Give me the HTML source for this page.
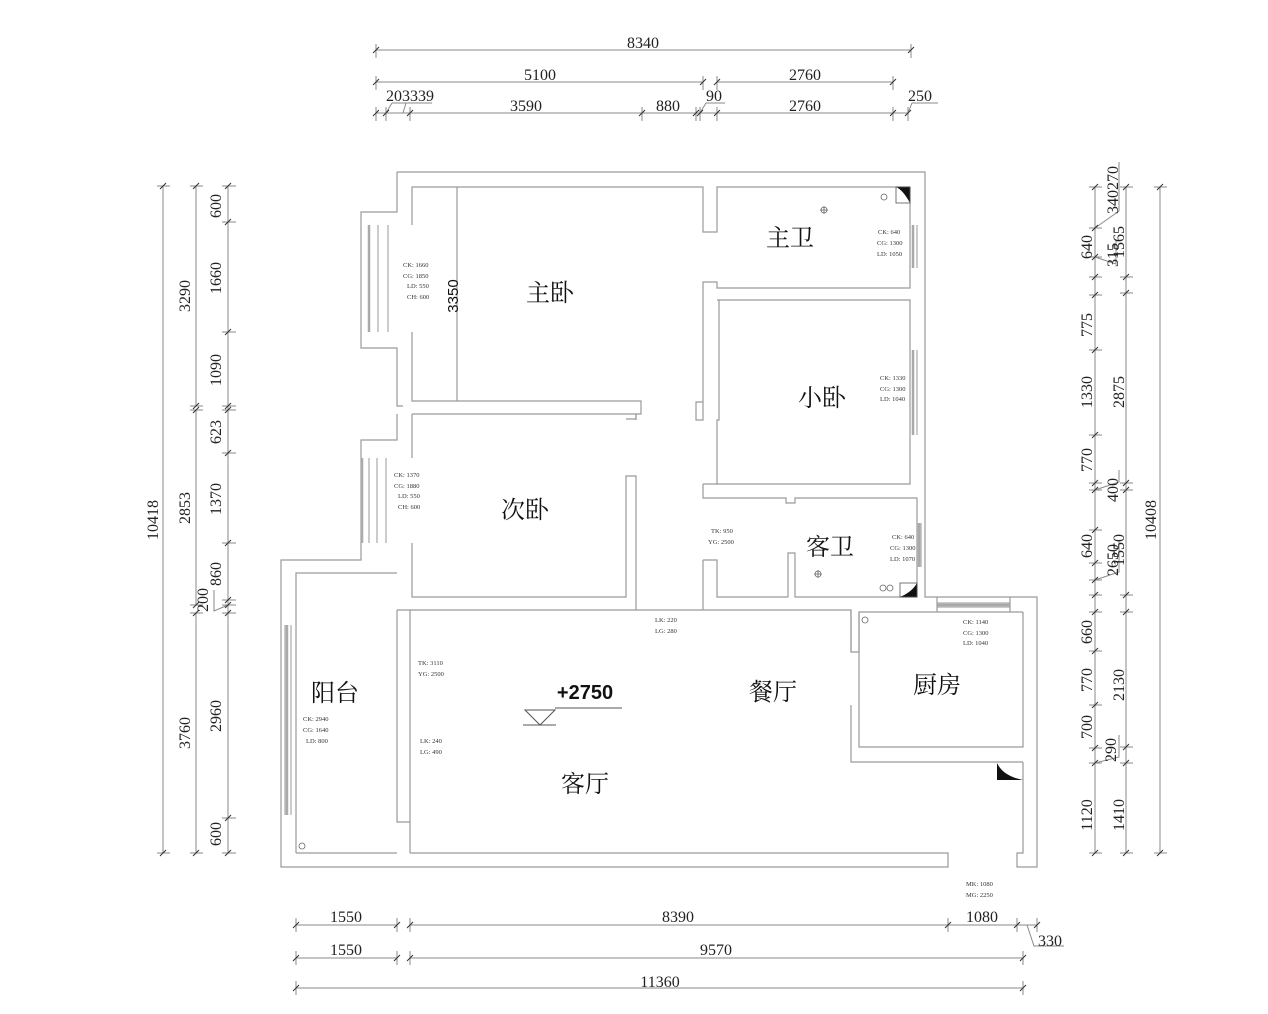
<!DOCTYPE html>
<html><head><meta charset="utf-8"><style>
html,body{margin:0;padding:0;background:#fff;}
svg{display:block;}
.w{fill:none;stroke:#9a9a9a;stroke-width:1.2;}
.d{fill:none;stroke:#8a8a8a;stroke-width:1;}
.t{stroke:#333;stroke-width:1;}
.n{font-family:"Liberation Serif",serif;font-size:16px;fill:#222;}
.s{font-family:"Liberation Serif",serif;font-size:6.5px;fill:#333;}
.r{font-family:"Liberation Serif","Noto Serif CJK SC","Noto Sans CJK SC",serif;font-size:24px;fill:#111;}
.win{fill:none;stroke:#999;stroke-width:1;}
.wing{stroke:#aaa;stroke-width:2.5;}
</style></head><body>
<svg width="1268" height="1014" viewBox="0 0 1268 1014" xmlns="http://www.w3.org/2000/svg">
<!-- TOP DIMENSIONS -->
<g class="d">
<path d="M376 50H911"/><path d="M376 82H703M717 82H893"/><path d="M376 113H908"/>
<path d="M376 44V58M911 44V58M376 76V90M703 76V90M717 76V90M893 76V90"/>
<path d="M376 107V121M386 107V121M410 107V121M642 107V121M696 107V121M700 107V121M717 107V121M893 107V121M908 107V121"/>
<path d="M386 113L392 103H432M403 113L406 103M700 113L706 103H725M908 113L912 103H938"/>
</g>
<g class="t">
<path d="M373 53L379 47M908 53L914 47M373 85L379 79M700 85L706 79M714 85L720 79M890 85L896 79"/>
<path d="M373 116L379 110M383 116L389 110M407 116L413 110M639 116L645 110M693 116L699 110M697 116L703 110M714 116L720 110M890 116L896 110M905 116L911 110"/>
</g>
<text class="n" x="643" y="48" text-anchor="middle">8340</text>
<text class="n" x="540" y="80" text-anchor="middle">5100</text>
<text class="n" x="805" y="80" text-anchor="middle">2760</text>
<text class="n" x="410" y="101" text-anchor="middle">203339</text>
<text class="n" x="526" y="111" text-anchor="middle">3590</text>
<text class="n" x="668" y="111" text-anchor="middle">880</text>
<text class="n" x="714" y="101" text-anchor="middle">90</text>
<text class="n" x="805" y="111" text-anchor="middle">2760</text>
<text class="n" x="920" y="101" text-anchor="middle">250</text>

<!-- LEFT DIMENSIONS -->
<g class="d">
<path d="M163 186V853M196 186V406M196 410V605M196 613V853M228 186V853"/>
<path d="M157 186H170M157 853H170M190 186H203M190 406H203M190 410H203M190 605H203M190 613H203M190 853H203"/>
<path d="M222 186H236M222 222H236M222 332H236M222 406H236M222 410H236M222 453H236M222 543H236M222 600H236M222 605H236M222 613H236M222 818H236M222 853H236"/>
<path d="M228 605L214 611V590"/>
</g>
<g class="t">
<path d="M160 189L166 183M160 856L166 850M193 189L199 183M193 409L199 403M193 413L199 407M193 608L199 602M193 616L199 610M193 856L199 850"/>
<path d="M225 189L231 183M225 225L231 219M225 335L231 329M225 409L231 403M225 413L231 407M225 456L231 450M225 546L231 540M225 603L231 597M225 608L231 602M225 616L231 610M225 821L231 815M225 856L231 850"/>
</g>
<g class="n">
<text transform="translate(158,520) rotate(-90)" text-anchor="middle">10418</text>
<text transform="translate(190,296) rotate(-90)" text-anchor="middle">3290</text>
<text transform="translate(190,508) rotate(-90)" text-anchor="middle">2853</text>
<text transform="translate(190,733) rotate(-90)" text-anchor="middle">3760</text>
<text transform="translate(221,206) rotate(-90)" text-anchor="middle">600</text>
<text transform="translate(221,278) rotate(-90)" text-anchor="middle">1660</text>
<text transform="translate(221,370) rotate(-90)" text-anchor="middle">1090</text>
<text transform="translate(221,432) rotate(-90)" text-anchor="middle">623</text>
<text transform="translate(221,499) rotate(-90)" text-anchor="middle">1370</text>
<text transform="translate(221,574) rotate(-90)" text-anchor="middle">860</text>
<text transform="translate(208,600) rotate(-90)" text-anchor="middle">200</text>
<text transform="translate(221,716) rotate(-90)" text-anchor="middle">2960</text>
<text transform="translate(221,834) rotate(-90)" text-anchor="middle">600</text>
</g>

<!-- RIGHT DIMENSIONS -->
<g class="d">
<path d="M1095 187V853M1126 187V853M1160 187V853"/>
<path d="M1089 187H1102M1089 228H1102M1089 257H1102M1089 277H1102M1089 295H1102M1089 350H1102M1089 435H1102M1089 483H1102M1089 490H1102M1089 530H1102M1089 563H1102M1089 580H1102M1089 595H1102M1089 612H1102M1089 651H1102M1089 705H1102M1089 748H1102M1089 763H1102M1089 853H1102"/>
<path d="M1120 187H1133M1120 277H1133M1120 293H1133M1120 483H1133M1120 490H1133M1120 595H1133M1120 612H1133M1120 747H1133M1120 763H1133M1120 853H1133M1154 187H1167M1154 853H1167"/>
<path d="M1095 228L1119 211V162M1095 257L1116 264V240M1095 490L1119 482V470M1095 580L1119 572V540M1095 763L1119 757V735"/>
</g>
<g class="t">
<path d="M1092 190L1098 184M1092 231L1098 225M1092 260L1098 254M1092 280L1098 274M1092 298L1098 292M1092 353L1098 347M1092 438L1098 432M1092 486L1098 480M1092 493L1098 487M1092 533L1098 527M1092 566L1098 560M1092 583L1098 577M1092 598L1098 592M1092 615L1098 609M1092 654L1098 648M1092 708L1098 702M1092 751L1098 745M1092 766L1098 760M1092 856L1098 850"/>
<path d="M1123 190L1129 184M1123 280L1129 274M1123 296L1129 290M1123 486L1129 480M1123 493L1129 487M1123 598L1129 592M1123 615L1129 609M1123 750L1129 744M1123 766L1129 760M1123 856L1129 850M1157 190L1163 184M1157 856L1163 850"/>
</g>
<g class="n">
<text transform="translate(1092,247) rotate(-90)" text-anchor="middle">640</text>
<text transform="translate(1092,325) rotate(-90)" text-anchor="middle">775</text>
<text transform="translate(1092,392) rotate(-90)" text-anchor="middle">1330</text>
<text transform="translate(1092,460) rotate(-90)" text-anchor="middle">770</text>
<text transform="translate(1092,546) rotate(-90)" text-anchor="middle">640</text>
<text transform="translate(1092,632) rotate(-90)" text-anchor="middle">660</text>
<text transform="translate(1092,680) rotate(-90)" text-anchor="middle">770</text>
<text transform="translate(1092,727) rotate(-90)" text-anchor="middle">700</text>
<text transform="translate(1092,815) rotate(-90)" text-anchor="middle">1120</text>
<text transform="translate(1118,190) rotate(-90)" text-anchor="middle">340270</text>
<text transform="translate(1118,255) rotate(-90)" text-anchor="middle">315</text>
<text transform="translate(1124,242) rotate(-90)" text-anchor="middle">1565</text>
<text transform="translate(1124,392) rotate(-90)" text-anchor="middle">2875</text>
<text transform="translate(1118,490) rotate(-90)" text-anchor="middle">400</text>
<text transform="translate(1118,560) rotate(-90)" text-anchor="middle">2650</text>
<text transform="translate(1124,550) rotate(-90)" text-anchor="middle">1550</text>
<text transform="translate(1124,685) rotate(-90)" text-anchor="middle">2130</text>
<text transform="translate(1116,750) rotate(-90)" text-anchor="middle">290</text>
<text transform="translate(1124,815) rotate(-90)" text-anchor="middle">1410</text>
<text transform="translate(1156,520) rotate(-90)" text-anchor="middle">10408</text>
</g>

<!-- BOTTOM DIMENSIONS -->
<g class="d">
<path d="M296 925H397M410 925H1037"/><path d="M296 958H397M410 958H1023"/><path d="M296 988H1023"/>
<path d="M296 918V932M397 918V932M410 918V932M948 918V932M1017 918V932M1037 918V932"/>
<path d="M296 951V965M397 951V965M410 951V965M1023 951V965M296 981V995M1023 981V995"/>
<path d="M1027 925L1034 946H1064"/>
</g>
<g class="t">
<path d="M293 928L299 922M394 928L400 922M407 928L413 922M945 928L951 922M1014 928L1020 922M1034 928L1040 922"/>
<path d="M293 961L299 955M394 961L400 955M407 961L413 955M1020 961L1026 955M293 991L299 985M1020 991L1026 985"/>
</g>
<text class="n" x="346" y="922" text-anchor="middle">1550</text>
<text class="n" x="678" y="922" text-anchor="middle">8390</text>
<text class="n" x="982" y="922" text-anchor="middle">1080</text>
<text class="n" x="1050" y="946" text-anchor="middle">330</text>
<text class="n" x="346" y="955" text-anchor="middle">1550</text>
<text class="n" x="716" y="955" text-anchor="middle">9570</text>
<text class="n" x="660" y="987" text-anchor="middle">11360</text>

<!-- WALLS -->
<g class="w">
<!-- outer -->
<path d="M397 172H925V597H1037V867H1017V853H1023V762"/>
<path d="M397 172V212H361V348H397V406H403"/>
<path d="M397 414V440H361V560H281V867H948V853H410"/>
<!-- master bedroom -->
<path d="M412 225V187H703V232H717V187H910V288H717V282H703V420H696V402H703"/>
<path d="M412 332V401H641V414H636V419H626"/>
<path d="M457 187V401"/>
<path d="M412 414H636V420"/>
<path d="M412 414V458M412 543V597H626V476H636V610"/>
<!-- small bedroom -->
<path d="M717 300H910V484H717V420H719V300"/>
<path d="M703 484H717M703 484V498H786V503H795V498H917V597H795V553H788V597"/>
<path d="M703 560H717V597H788"/>
<path d="M703 560V610"/>
<!-- living -->
<path d="M397 610H851V652H859V612H1023"/>
<path d="M410 610V853M397 610V822H410"/>
<path d="M296 853V573H397M296 853H397"/>
<!-- kitchen -->
<path d="M859 612V747H1023V612"/>
<path d="M851 705V762H1023"/>
<path d="M851 610V652"/>
<path d="M937 597V612M1010 597V612"/>
</g>
<!-- windows -->
<g class="win">
<path d="M369 225V332M378 225V332M388 225V332"/>
<path d="M369 458V543M377 458V543M386 458V543"/>
<path d="M910 225V268M917 225V268M910 350V435M917 350V435M917 523V567M921 523V567"/>
<path d="M937 603H1010M937 607H1010"/>
<path d="M285 625V815M291 625V815"/>
</g>
<g class="wing"><path d="M369 225V332M362 458V543M913 225V268M913 350V435M919 523V567M287 625V815M937 605H1010"/></g>
<!-- corner symbols -->
<path d="M896 187H910V203Q903 190 896 187Z" fill="#111"/>
<rect x="896" y="187" width="14" height="16" fill="none" stroke="#555" stroke-width="0.8"/>
<path d="M917 583V597H900Q912 592 917 583Z" fill="#111"/>
<rect x="900" y="583" width="17" height="14" fill="none" stroke="#555" stroke-width="0.8"/>
<path d="M997 763V780H1023Q1003 776 997 763Z" fill="#111"/>
<g fill="none" stroke="#666" stroke-width="0.8">
<circle cx="884" cy="197" r="3"/><circle cx="883" cy="588" r="3"/><circle cx="890" cy="588" r="3"/><circle cx="865" cy="620" r="3"/><circle cx="302" cy="846" r="3"/>
<circle cx="824" cy="210" r="3"/><path d="M820 210H828M824 206V214"/>
<circle cx="818" cy="574" r="3"/><path d="M814 574H822M818 570V578"/>
</g>
<!-- elevation marker -->
<path d="M555 708H622M525 710L540 725L555 710Z" fill="none" stroke="#555" stroke-width="1"/>
<path d="M523 725H556" stroke="#555"/>
<text x="585" y="699" text-anchor="middle" font-family="Liberation Sans,sans-serif" font-weight="bold" font-size="20" fill="#111">+2750</text>
<!-- room names -->
<text class="r" x="550" y="301" text-anchor="middle">主卧</text>
<text class="r" x="790" y="246" text-anchor="middle">主卫</text>
<text class="r" x="822" y="406" text-anchor="middle">小卧</text>
<text class="r" x="525" y="518" text-anchor="middle">次卧</text>
<text class="r" x="830" y="555" text-anchor="middle">客卫</text>
<text class="r" x="335" y="701" text-anchor="middle">阳台</text>
<text class="r" x="773" y="700" text-anchor="middle">餐厅</text>
<text class="r" x="937" y="693" text-anchor="middle">厨房</text>
<text class="r" x="585" y="792" text-anchor="middle">客厅</text>
<text transform="translate(458,296) rotate(-90)" text-anchor="middle" font-family="Liberation Sans,sans-serif" font-size="15" fill="#111">3350</text>
<!-- small notes -->
<g class="s">
<text x="403" y="267">CK: 1660</text><text x="403" y="278">CG: 1850</text><text x="407" y="288">LD: 550</text><text x="407" y="299">CH: 600</text>
<text x="394" y="477">CK: 1370</text><text x="394" y="488">CG: 1880</text><text x="398" y="498">LD: 550</text><text x="398" y="509">CH: 600</text>
<text x="878" y="234">CK: 640</text><text x="877" y="245">CG: 1300</text><text x="877" y="256">LD: 1050</text>
<text x="880" y="380">CK: 1330</text><text x="880" y="391">CG: 1300</text><text x="880" y="401">LD: 1040</text>
<text x="711" y="533">TK: 950</text><text x="708" y="544">YG: 2500</text>
<text x="892" y="539">CK: 640</text><text x="890" y="550">CG: 1300</text><text x="890" y="561">LD: 1070</text>
<text x="655" y="622">LK: 220</text><text x="655" y="633">LG: 280</text>
<text x="963" y="624">CK: 1140</text><text x="963" y="635">CG: 1300</text><text x="963" y="645">LD: 1040</text>
<text x="418" y="665">TK: 3110</text><text x="418" y="676">YG: 2500</text>
<text x="420" y="743">LK: 240</text><text x="420" y="754">LG: 490</text>
<text x="303" y="721">CK: 2940</text><text x="303" y="732">CG: 1640</text><text x="306" y="743">LD: 800</text>
<text x="966" y="886">MK: 1080</text><text x="966" y="897">MG: 2250</text>
</g>
</svg>
</body></html>
